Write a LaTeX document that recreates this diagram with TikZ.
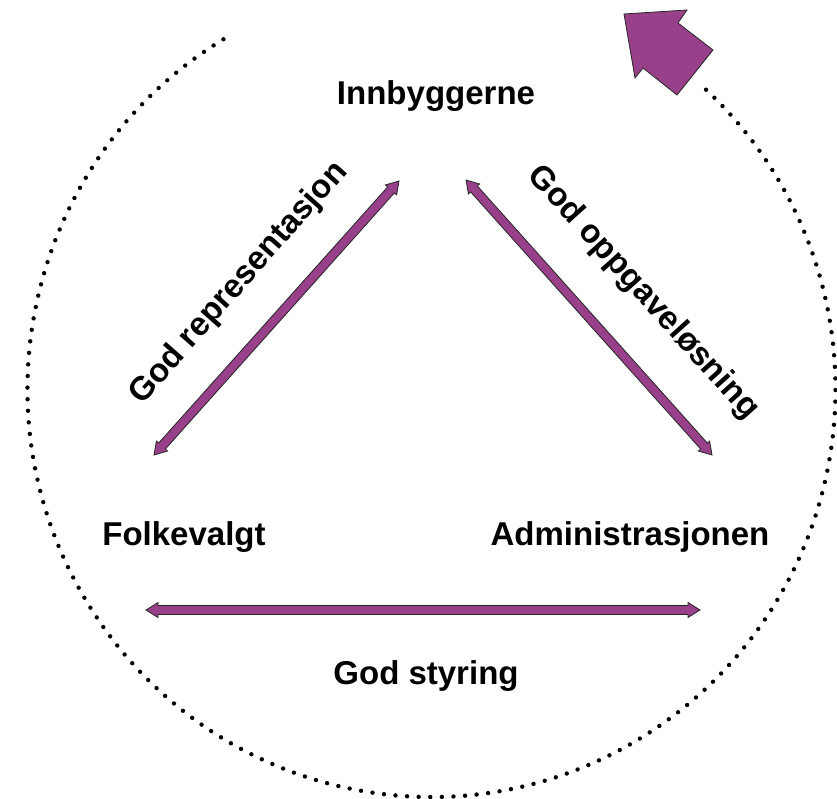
\documentclass[tikz,border=0pt]{standalone}
\usepackage{fontspec}
\setmainfont{Liberation Sans}
\usetikzlibrary{calc}

\definecolor{lilla}{RGB}{152,64,138}

\tikzset{
  tekst/.style={font=\bfseries\fontsize{33}{40}\selectfont, inner sep=0pt},
  dotring/.style={line width=4.4pt, line cap=round, dash pattern=on 0pt off 11.6pt},
  pil/.style={fill=lilla, draw=black!85, line width=0.8pt, line join=miter},
}

% block arrow with a head at each end
\newcommand{\dobbelpil}[2]{%
  \filldraw[pil] (#1)
    -- ($(#1)!12pt!(#2)!7.5pt!90:(#2)$) -- ($(#1)!12pt!(#2)!4.5pt!90:(#2)$)
    -- ($(#2)!12pt!(#1)!4.5pt!-90:(#1)$) -- ($(#2)!12pt!(#1)!7.5pt!-90:(#1)$)
    -- (#2)
    -- ($(#2)!12pt!(#1)!7.5pt!90:(#1)$) -- ($(#2)!12pt!(#1)!4.5pt!90:(#1)$)
    -- ($(#1)!12pt!(#2)!4.5pt!-90:(#2)$) -- ($(#1)!12pt!(#2)!7.5pt!-90:(#2)$)
    -- cycle;}

\begin{document}
\begin{tikzpicture}[x=1pt, y=-1pt]
  \useasboundingbox (0,0) rectangle (837,799);

  % the ring
  \draw[dotring] (431.5,389) ++(-121:404 and 408)
    arc[start angle=-121, end angle=-408.3, x radius=404, y radius=408];
  \filldraw[pil] (624,14) -- (687,10) -- (678,23) -- (713,50)
    -- (677,95) -- (643,68) -- (635,78) -- cycle;

  \node[tekst, anchor=base] (inn) at (436,105) {Innbyggerne};
  \node[tekst, anchor=base] (folk) at (184,545) {Folkevalgt};
  \node[tekst, anchor=base] (adm) at (630,545) {Administrasjonen};
  \node[tekst, anchor=base] (styr) at (426,684) {God styring};
  \node[tekst, rotate=48.5] (rep) at (239,283) {God representasjon};
  \node[tekst, rotate=-48] (opp) at (643,293) {God oppgaveløsning};

  \coordinate (fo) at (154,455);
  \coordinate (fi) at (399,181);
  \coordinate (ai) at (466,180);
  \coordinate (ao) at (712,455);
  \coordinate (fs) at (146,610);
  \coordinate (as) at (700,610);

  \dobbelpil{fo}{fi}
  \dobbelpil{ai}{ao}
  \dobbelpil{fs}{as}
\end{tikzpicture}
\end{document}
